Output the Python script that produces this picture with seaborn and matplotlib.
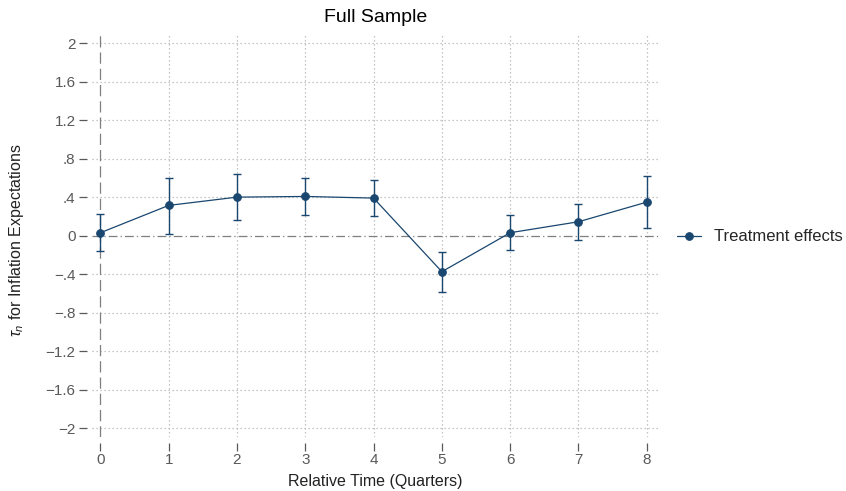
import numpy as np
import pandas as pd
import matplotlib
matplotlib.use("Agg")
import matplotlib.pyplot as plt
import seaborn as sns

# Data
rel_time = [0, 1, 2, 3, 4, 5, 6, 7, 8]
coef = [0.033, 0.317, 0.403, 0.410, 0.393, -0.372, 0.033, 0.147, 0.351]
ci_low = [-0.158, 0.023, 0.161, 0.213, 0.203, -0.584, -0.144, -0.044, 0.085]
ci_high = [0.223, 0.605, 0.646, 0.605, 0.580, -0.168, 0.213, 0.334, 0.618]

y_ticks = [2, 1.6, 1.2, 0.8, 0.4, 0, -0.4, -0.8, -1.2, -1.6, -2]
y_tick_labels = ["2", "1.6", "1.2", ".8", ".4", "0", "\u2212.4", "\u2212.8",
                 "\u22121.2", "\u22121.6", "\u22122"]
x_ticks = [0, 1, 2, 3, 4, 5, 6, 7, 8]

sns.set_theme(style="white")
plt.rcParams["font.family"] = ["Liberation Sans", "DejaVu Sans"]
plt.rcParams["mathtext.fontset"] = "custom"
plt.rcParams["mathtext.rm"] = "Liberation Sans"
plt.rcParams["mathtext.it"] = "Liberation Sans:italic"

navy = "#1a476f"
grid_c = "#b4b4b4"
tick_c = "#595959"

df = pd.DataFrame({"t": rel_time, "b": coef, "lo": ci_low, "hi": ci_high})

fig = plt.figure(figsize=(8.46, 4.91), dpi=100)
ax = fig.add_axes([0.109, 0.110, 0.670, 0.823])

# gridlines (dotted)
for yv in y_ticks:
    if yv != 0:
        ax.axhline(yv, color=grid_c, lw=0.9, ls=(0, (1, 2.2)), zorder=0)
for xv in x_ticks:
    if xv != 0:
        ax.axvline(xv, color=grid_c, lw=0.9, ls=(0, (1, 2.2)), zorder=0)

# reference lines
ax.axhline(0, color="#7f7f7f", lw=0.9, ls=(0, (7, 2.5, 1, 2.5)), zorder=1)
ax.axvline(0, color="#7f7f7f", lw=0.9, ls=(0, (9, 4)), zorder=1)

# error bars
ax.errorbar(df["t"], df["b"],
            yerr=[df["b"] - df["lo"], df["hi"] - df["b"]],
            fmt="none", ecolor=navy, elinewidth=1.0, capsize=3, capthick=1.0,
            zorder=2)

sns.lineplot(data=df, x="t", y="b", marker="o", color=navy, lw=0.9,
             markersize=5.5, markeredgecolor=navy, ax=ax,
             label="Treatment effects", zorder=3)

ax.set_xlim(-0.12, 8.18)
ax.set_ylim(-2.09, 2.11)
ax.set_xticks(x_ticks)
ax.set_xticklabels([str(v) for v in x_ticks])
ax.set_yticks(y_ticks)
ax.set_yticklabels(y_tick_labels)

for s in ["top", "right", "left", "bottom"]:
    ax.spines[s].set_visible(False)
ax.spines["left"].set_position(("outward", 4))
ax.spines["bottom"].set_position(("outward", 4))

ax.tick_params(axis="both", which="major", direction="out", length=6,
               width=0.9, color=tick_c, labelcolor=tick_c, labelsize=11,
               left=True, bottom=True)
ax.tick_params(axis="y", pad=2)
ax.tick_params(axis="x", pad=1.5)

ax.set_xlabel("Relative Time (Quarters)", fontsize=11.5, color="#222222",
              labelpad=5)
ax.set_ylabel(r"$\tau_n$ for Inflation Expectations", fontsize=11.5,
              color="#222222")
ax.yaxis.set_label_coords(-0.116, 0.488)
ax.set_title("Full Sample", fontsize=14, color="black", pad=7.5)

leg = ax.legend(loc="center left", bbox_to_anchor=(1.005, 0.495),
                frameon=False, fontsize=12, handlelength=1.45,
                handletextpad=0.8)

fig.savefig("out.png", dpi=100)
